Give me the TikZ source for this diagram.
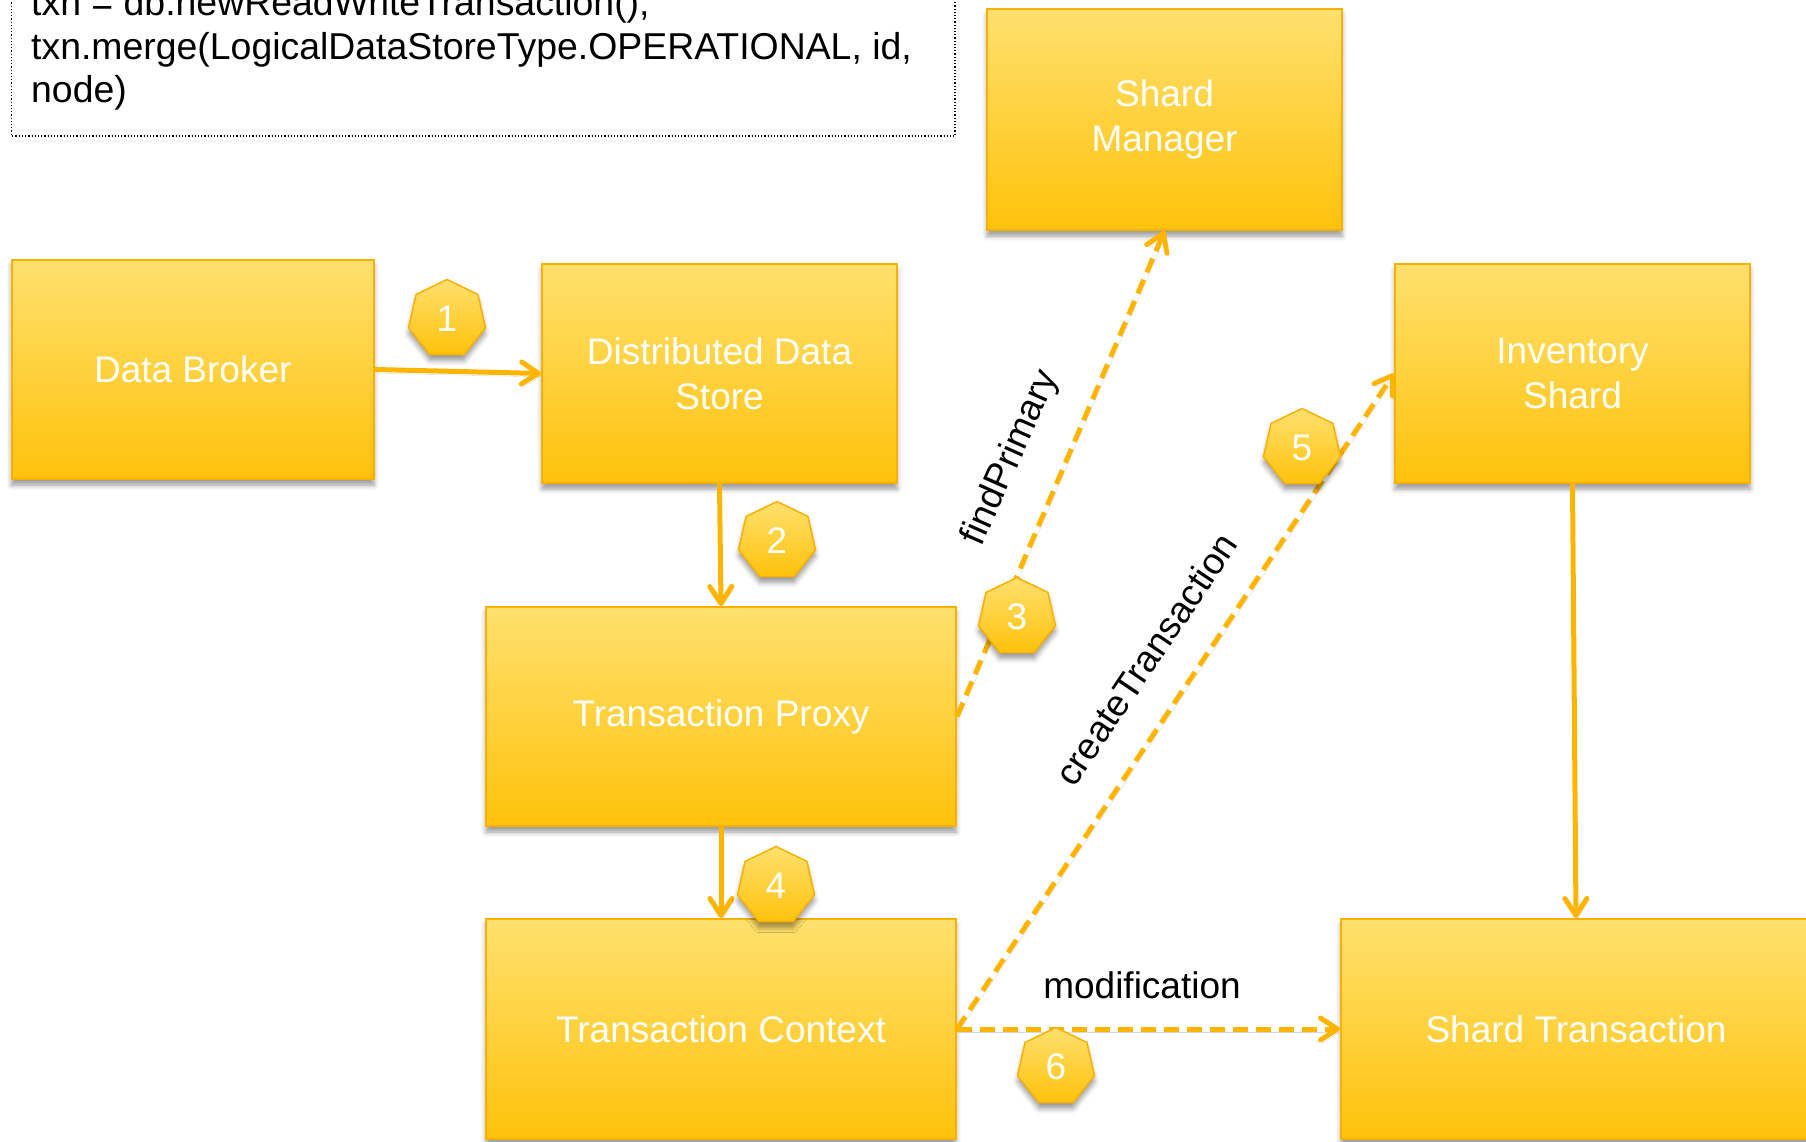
\documentclass[tikz,border=0pt]{standalone}
\usepackage{fontspec}
\setmainfont{Liberation Sans}
\usetikzlibrary{arrows.meta,shapes.geometric,shadows.blur}

\definecolor{lineorange}{RGB}{255,181,0}
\definecolor{boxtop}{RGB}{255,224,110}
\definecolor{boxbot}{RGB}{255,194,12}
\definecolor{boxedge}{RGB}{250,176,0}

\begin{document}
\begin{tikzpicture}[x=1pt,y=-1pt,
  softshadow/.style={blur shadow={shadow xshift=0pt, shadow yshift=-6pt,
      shadow blur radius=5pt, shadow opacity=40}},
  block/.style={draw=boxedge, line width=2pt, top color=boxtop,
      bottom color=boxbot, text=white, font=\fontsize{37}{45}\selectfont,
      align=center, inner sep=0pt, softshadow},
  badge/.style={regular polygon, regular polygon sides=7, minimum size=79pt,
      inner sep=0pt, draw=boxedge, line width=1.5pt, top color=boxtop,
      bottom color=boxbot, text=white, font=\fontsize{37}{40}\selectfont,
      softshadow},
  flow/.style={draw=lineorange, line width=5pt,
      -{Straight Barb[length=17pt,width=22pt,round]},
      preaction={draw=black, draw opacity=0.15,
        transform canvas={xshift=1.5pt,yshift=-3.5pt}}},
  call/.style={flow, dash pattern=on 15pt off 8pt},
  lbl/.style={font=\fontsize{37}{40}\selectfont, text=black, inner sep=0pt}
]
\useasboundingbox (0,0) rectangle (1806,1142);
\clip (0,0) rectangle (1806,1142);

% code snippet
\draw[dotted, line width=1.2pt] (11.5,-20) rectangle (955,136);
\node[lbl, anchor=base west, align=left, font=\fontsize{37.4}{43.5}\selectfont]
  (code) at (31,103)
  {txn = db.newReadWriteTransaction();\\
   txn.merge(LogicalDataStoreType.OPERATIONAL, id,\\
   node)};

% components
\node[block, minimum width=362.5pt, minimum height=219pt] (db)  at (192.75,369.5) {Data Broker};
\node[block, minimum width=355pt, minimum height=219pt]   (dds) at (719.5,373.5) {Distributed Data\\Store};
\node[block, minimum width=355pt, minimum height=221pt]   (sm)  at (1164.5,119.5) {Shard\\Manager};
\node[block, minimum width=355pt, minimum height=219pt]   (is)  at (1572.5,373.5) {Inventory\\Shard};
\node[block, minimum width=470pt, minimum height=219pt]   (tp)  at (721,716.5) {Transaction Proxy};
\node[block, minimum width=470pt, minimum height=220pt]   (tc)  at (721,1029) {Transaction Context};
\node[block, minimum width=470pt, minimum height=220pt]   (st)  at (1576,1029) {Shard Transaction};

% connectors
\draw[flow] (db.east) -- (dds.west);
\draw[flow] (dds.south) -- (tp.north);
\draw[flow] (tp.south) -- (tc.north);
\draw[flow] (is.south) -- (st.north);
\draw[call] (tp.east) -- (sm.south);
\draw[call] (tc.east) -- (is.west);
\draw[call] (tc.east) -- (st.west);

% connector labels
\node[lbl, rotate=66] (fp) at (1011,458) {findPrimary};
\node[lbl, rotate=56] (ct) at (1146,659) {createTransaction};
\node[lbl, anchor=base] (mod) at (1142,998) {modification};

% step numbers
\node[badge] (n1) at (447,319) {1};
\node[badge] (n2) at (777,541) {2};
\node[badge] (n3) at (1017,617) {3};
\node[badge] (n4) at (776,886) {4};
\node[badge] (n5) at (1302,448) {5};
\node[badge] (n6) at (1056,1067) {6};
\end{tikzpicture}
\end{document}
